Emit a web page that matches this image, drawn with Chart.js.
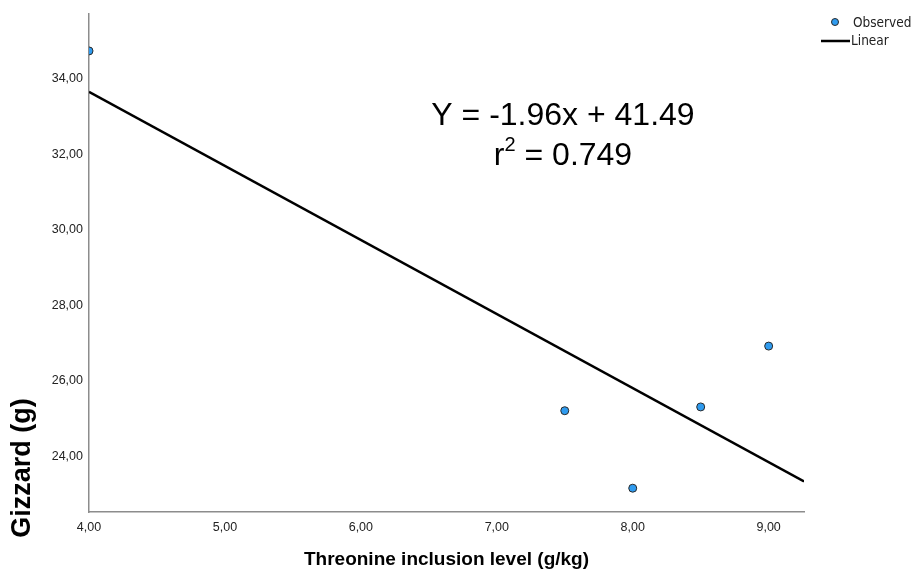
<!DOCTYPE html>
<html>
<head>
<meta charset="utf-8">
<script src="https://cdn.jsdelivr.net/npm/chart.js@4.4.1/dist/chart.umd.min.js"></script>
<style>
  html, body { margin: 0; padding: 0; background: #fff; }
  #wrap { width: 922px; height: 574px; position: relative; }
</style>
</head>
<body>
<div id="wrap"><canvas id="gizzardChart"></canvas></div>
<script>
// threonine level (g/kg) vs gizzard weight (g)
const threonineLevels = [4.0, 7.5, 8.0, 8.5, 9.0];
const gizzardWeights = [34.73, 25.21, 23.16, 25.31, 26.92];

// fitted line as printed on the chart
const fitSlope = -1.96;
const fitIntercept = 41.49;
const fitR2 = 0.749;

const xMin = 4.0, xMax = 9.26;
const yMin = 22.53, yMax = 35.72;

const fitLine = [xMin, xMax].map(x => ({ x: x, y: fitIntercept + fitSlope * x }));

const fmt = v => v.toFixed(2).replace('.', ',');

const FONT = "'Liberation Sans', Arial, sans-serif";
const NARROW = "'Liberation Sans Narrow', 'DejaVu Sans Condensed', 'Liberation Sans', Arial, sans-serif";

// y title, equation text and legend drawn straight onto the canvas
const annotations = {
    id: 'annotations',
    afterDraw(chart) {
        const ctx = chart.ctx;
        ctx.save();

        // y axis title
        ctx.translate(23, 468);
        ctx.rotate(-Math.PI / 2);
        ctx.font = "bold 27px " + FONT;
        ctx.fillStyle = '#000';
        ctx.textAlign = 'center';
        ctx.textBaseline = 'middle';
        ctx.fillText('Gizzard (g)', 0, 0);
        ctx.setTransform(1, 0, 0, 1, 0, 0);

        // regression equation
        ctx.font = "32px " + FONT;
        ctx.textAlign = 'center';
        ctx.fillText('Y = ' + fitSlope.toFixed(2) + 'x + ' + fitIntercept.toFixed(2), 563, 116);

        const rest = ' = ' + fitR2.toFixed(3);
        const wR = ctx.measureText('r').width;
        const wRest = ctx.measureText(rest).width;
        ctx.font = "20px " + FONT;
        const wSup = ctx.measureText('2').width;
        const x0 = 563 - (wR + wSup + wRest) / 2;
        ctx.textAlign = 'left';
        ctx.font = "32px " + FONT;
        ctx.fillText('r', x0, 156);
        ctx.font = "20px " + FONT;
        ctx.fillText('2', x0 + wR, 145);
        ctx.font = "32px " + FONT;
        ctx.fillText(rest, x0 + wR + wSup, 156);

        // legend
        const obs = chart.data.datasets[0];
        const lin = chart.data.datasets[1];
        ctx.beginPath();
        ctx.arc(835, 22, 3.5, 0, Math.PI * 2);
        ctx.fillStyle = obs.backgroundColor;
        ctx.fill();
        ctx.lineWidth = 1;
        ctx.strokeStyle = obs.borderColor;
        ctx.stroke();

        ctx.beginPath();
        ctx.moveTo(821, 41);
        ctx.lineTo(850, 41);
        ctx.lineWidth = 2.5;
        ctx.strokeStyle = lin.borderColor;
        ctx.stroke();

        ctx.font = "13.5px " + NARROW;
        ctx.fillStyle = '#222';
        ctx.textBaseline = 'middle';
        ctx.fillText(obs.label, 853, 23);
        ctx.fillText(lin.label, 851, 41);

        ctx.restore();
    }
};

new Chart(document.getElementById('gizzardChart'), {
    type: 'scatter',
    data: {
        datasets: [
            {
                label: 'Observed',
                data: threonineLevels.map((x, i) => ({ x: x, y: gizzardWeights[i] })),
                backgroundColor: '#2f9bef',
                borderColor: '#2a2a2a',
                borderWidth: 1,
                pointRadius: 4,
                pointHoverRadius: 4,
                clip: 0,
                order: 1
            },
            {
                type: 'line',
                label: 'Linear',
                data: fitLine,
                borderColor: '#000',
                borderWidth: 2.5,
                pointRadius: 0,
                fill: false,
                order: 2
            }
        ]
    },
    options: {
        responsive: true,
        maintainAspectRatio: false,
        animation: false,
        layout: {
            padding: { top: 12, right: 118, left: 0, bottom: 0 }
        },
        scales: {
            x: {
                type: 'linear',
                min: xMin,
                max: xMax,
                grid: { display: false, drawTicks: false },
                border: { display: true, color: '#8c8c8c', width: 1.5 },
                ticks: {
                    stepSize: 1,
                    includeBounds: false,
                    padding: 8,
                    color: '#222',
                    font: { family: FONT, size: 12.5 },
                    callback: v => fmt(v)
                },
                title: {
                    display: true,
                    text: 'Threonine inclusion level (g/kg)',
                    color: '#000',
                    font: { family: FONT, size: 19, weight: 'bold' },
                    padding: { top: 0, bottom: 3 }
                },
                afterFit(scale) { scale.height = 62; }
            },
            y: {
                type: 'linear',
                min: yMin,
                max: yMax,
                grid: { display: false, drawTicks: false },
                border: { display: true, color: '#8c8c8c', width: 1.5 },
                ticks: {
                    stepSize: 2,
                    includeBounds: false,
                    padding: 6,
                    color: '#222',
                    font: { family: FONT, size: 12.5 },
                    callback: v => fmt(v)
                },
                afterFit(scale) { scale.width = 89; }
            }
        },
        plugins: {
            legend: { display: false },
            tooltip: { enabled: false }
        }
    },
    plugins: [annotations]
});
</script>
</body>
</html>
